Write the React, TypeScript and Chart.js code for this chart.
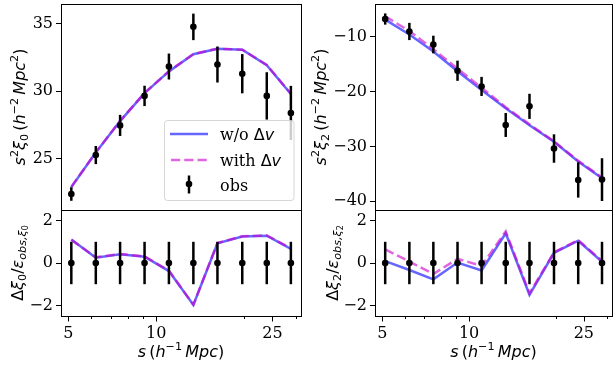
import React, { useEffect, useRef } from 'react';
import { Chart, registerables } from 'chart.js';

Chart.register(...registerables);

// ---------- data ----------
const sValues = [5.12, 6.21, 7.52, 9.12, 11.05, 13.4, 16.2, 19.7, 23.9, 28.9];
const xTickValues = [5, 6, 7, 8, 9, 10, 20, 25, 30];
const xTickLabels = [5, 10, 25];

const xi0Obs = [22.39, 25.27, 27.46, 29.64, 31.81, 34.74, 31.96, 31.28, 29.64, 28.38];
const xi0Err = [0.5, 0.67, 0.78, 0.75, 0.96, 0.98, 1.33, 1.45, 1.75, 2.0];
const xi0NoDv = [22.9, 25.45, 27.78, 29.85, 31.45, 32.72, 33.12, 33.05, 31.9, 29.78];
const xi0WithDv = [22.92, 25.46, 27.8, 29.86, 31.46, 32.73, 33.13, 33.06, 31.92, 29.8];

const xi2Obs = [-6.78, -9.05, -11.43, -16.21, -19.07, -26.1, -22.7, -30.39, -36.12, -36.06];
const xi2Err = [1.02, 1.57, 1.61, 1.84, 1.74, 2.18, 2.29, 2.59, 3.22, 3.9];
const xi2NoDv = [-6.9, -9.6, -12.7, -16.3, -19.7, -23.05, -26.14, -29.15, -32.74, -35.83];
const xi2WithDv = [-6.3, -8.97, -12.27, -15.84, -19.31, -22.85, -25.97, -29.1, -32.64, -35.67];

const res0NoDv = [1.11, 0.25, 0.41, 0.3, -0.38, -1.98, 0.93, 1.25, 1.29, 0.67];
const res0WithDv = [1.09, 0.27, 0.42, 0.31, -0.36, -1.97, 0.94, 1.26, 1.3, 0.69];
const res2NoDv = [0.09, -0.33, -0.77, 0.02, -0.35, 1.4, -1.5, 0.48, 1.05, 0.06];
const res2WithDv = [0.64, 0.07, -0.52, 0.2, -0.14, 1.49, -1.43, 0.5, 1.08, 0.1];
const resObs = [0, 0, 0, 0, 0, 0, 0, 0, 0, 0];
const resErr = [1, 1, 1, 1, 1, 1, 1, 1, 1, 1];

const yTicksXi0 = [25, 30, 35];
const yTicksXi2 = [-10, -20, -30, -40];
const yTicksRes = [-2, 0, 2];

// ---------- styling ----------
const W = 616;
const H = 372;
const X_MIN = 4.72;
const X_MAX = 31.3;
const BLUE = 'rgba(0,0,255,0.6)';
const PINK = 'rgba(204,0,204,0.6)';
const TICK_FONT = { family: 'DejaVu Serif', size: 16 };

type Seg = { t: string; it?: boolean; pos?: 'sup' | 'sub' | 'subsub'; f?: string };

function segFont(seg: Seg, size: number) {
  let s = size;
  if (seg.pos === 'sup' || seg.pos === 'sub') s = size * 0.7;
  if (seg.pos === 'subsub') s = size * 0.5;
  const fam = seg.f || 'DejaVu Sans';
  return `${seg.it ? 'italic ' : ''}${s}px "${fam}"`;
}
function segOff(seg: Seg, size: number) {
  if (seg.pos === 'sup') return -0.42 * size;
  if (seg.pos === 'sub') return 0.2 * size;
  if (seg.pos === 'subsub') return 0.32 * size;
  return 0;
}
function drawRich(ctx: CanvasRenderingContext2D, segs: Seg[], x: number, y: number, rotate: boolean, size: number, align: 'center' | 'left' = 'center') {
  ctx.save();
  let total = 0;
  const widths = segs.map((s) => {
    ctx.font = segFont(s, size);
    const w = ctx.measureText(s.t).width;
    total += w;
    return w;
  });
  ctx.translate(x, y);
  if (rotate) ctx.rotate(-Math.PI / 2);
  ctx.textAlign = 'left';
  ctx.textBaseline = 'alphabetic';
  ctx.fillStyle = '#000';
  let cx = align === 'center' ? -total / 2 : 0;
  segs.forEach((s, i) => {
    ctx.font = segFont(s, size);
    ctx.fillText(s.t, cx, segOff(s, size));
    cx += widths[i];
  });
  ctx.restore();
}

const titleXi = (n: string): Seg[] => [
  { t: 's', it: true }, { t: '2', pos: 'sup' }, { t: 'ξ', it: true }, { t: n, pos: 'sub' },
  { t: '\u2009(' }, { t: 'h', it: true }, { t: '−2', pos: 'sup' }, { t: '\u2009' },
  { t: 'Mpc', it: true }, { t: '2', pos: 'sup' }, { t: ')' },
];
const titleRes = (n: string): Seg[] => [
  { t: 'Δ' }, { t: 'ξ', it: true }, { t: n, pos: 'sub' }, { t: '/' }, { t: 'ε', it: true },
  { t: 'obs,ξ', it: true, pos: 'sub' }, { t: n, pos: 'subsub' },
];
const titleX: Seg[] = [
  { t: 's', it: true }, { t: '\u2009(' }, { t: 'h', it: true }, { t: '−1', pos: 'sup' },
  { t: '\u2009' }, { t: 'Mpc', it: true }, { t: ')' },
];

type Panel = {
  area: [number, number, number, number];
  yMin: number; yMax: number; yTicks: number[];
  obs: number[]; err: number[]; noDv: number[]; withDv: number[];
  xAxis: boolean; yTitle: Seg[]; yTitleX: number; legend: boolean;
};

const panels: Panel[] = [
  { area: [61, 0, 301, 210], yMin: 21.21, yMax: 36.43, yTicks: yTicksXi0, obs: xi0Obs, err: xi0Err, noDv: xi0NoDv, withDv: xi0WithDv, xAxis: false, yTitle: titleXi('0'), yTitleX: 25, legend: true },
  { area: [61, 210, 301, 316], yMin: -2.5, yMax: 2.5, yTicks: yTicksRes, obs: resObs, err: resErr, noDv: res0NoDv, withDv: res0WithDv, xAxis: true, yTitle: titleRes('0'), yTitleX: 23, legend: false },
  { area: [375, 0, 615, 210], yMin: -41.6, yMax: -4.04, yTicks: yTicksXi2, obs: xi2Obs, err: xi2Err, noDv: xi2NoDv, withDv: xi2WithDv, xAxis: false, yTitle: titleXi('2'), yTitleX: 326, legend: false },
  { area: [375, 210, 615, 316], yMin: -2.5, yMax: 2.5, yTicks: yTicksRes, obs: resObs, err: resErr, noDv: res2NoDv, withDv: res2WithDv, xAxis: true, yTitle: titleRes('2'), yTitleX: 338, legend: false },
];

function drawLegend(ctx: CanvasRenderingContext2D) {
  ctx.save();
  const x = 164.5, y = 120.5, w = 129.5, h = 80, r = 3;
  ctx.beginPath();
  ctx.moveTo(x + r, y);
  ctx.arcTo(x + w, y, x + w, y + h, r);
  ctx.arcTo(x + w, y + h, x, y + h, r);
  ctx.arcTo(x, y + h, x, y, r);
  ctx.arcTo(x, y, x + w, y, r);
  ctx.closePath();
  ctx.fillStyle = 'rgba(255,255,255,0.8)';
  ctx.fill();
  ctx.strokeStyle = 'rgba(204,204,204,0.8)';
  ctx.lineWidth = 1;
  ctx.stroke();

  ctx.lineWidth = 2.5;
  ctx.strokeStyle = BLUE;
  ctx.beginPath(); ctx.moveTo(170, 134); ctx.lineTo(208, 134); ctx.stroke();
  ctx.strokeStyle = PINK;
  ctx.setLineDash([9.25, 4]);
  ctx.beginPath(); ctx.moveTo(171, 160); ctx.lineTo(207, 160); ctx.stroke();
  ctx.setLineDash([]);
  ctx.strokeStyle = '#000';
  ctx.beginPath(); ctx.moveTo(189, 175.5); ctx.lineTo(189, 193.5); ctx.stroke();
  ctx.fillStyle = '#000';
  ctx.beginPath(); ctx.arc(189, 184, 3.3, 0, Math.PI * 2); ctx.fill();
  ctx.restore();

  drawRich(ctx, [{ t: 'w/o ', f: 'DejaVu Serif' }, { t: 'Δ' }, { t: 'v', it: true }], 220, 140, false, 16, 'left');
  drawRich(ctx, [{ t: 'with ', f: 'DejaVu Serif' }, { t: 'Δ' }, { t: 'v', it: true }], 220, 166, false, 16, 'left');
  drawRich(ctx, [{ t: 'obs', f: 'DejaVu Serif' }], 220, 191, false, 16, 'left');
}

function makeChart(canvas: HTMLCanvasElement, p: Panel) {
  const YW = 50;
  const XH = p.xAxis ? 30 : 0;
  const pts = (arr: number[]) => sValues.map((s, i) => ({ x: s, y: arr[i] }));
  const fmt = (v: number) => (v < 0 ? '−' + Math.abs(v) : String(v));

  const custom = {
    id: 'custom' + p.area.join('_'),
    beforeDatasetDraw(chart: any, args: any) {
      if (args.index !== 0) return;
      const ctx = chart.ctx as CanvasRenderingContext2D;
      const meta = chart.getDatasetMeta(0);
      const ys = chart.scales.y;
      const ca = chart.chartArea;
      ctx.save();
      ctx.beginPath();
      ctx.rect(ca.left, ca.top, ca.right - ca.left, ca.bottom - ca.top);
      ctx.clip();
      ctx.strokeStyle = '#000';
      ctx.lineWidth = 2.5;
      meta.data.forEach((el: any, i: number) => {
        const y1 = ys.getPixelForValue(p.obs[i] + p.err[i]);
        const y2 = ys.getPixelForValue(p.obs[i] - p.err[i]);
        ctx.beginPath();
        ctx.moveTo(el.x, y1);
        ctx.lineTo(el.x, y2);
        ctx.stroke();
      });
      ctx.restore();
    },
    afterDatasetsDraw(chart: any) {
      const ctx = chart.ctx as CanvasRenderingContext2D;
      if (p.legend) drawLegend(ctx);
    },
    afterDraw(chart: any) {
      const ctx = chart.ctx as CanvasRenderingContext2D;
      const ca = chart.chartArea;
      ctx.save();
      ctx.strokeStyle = '#000';
      ctx.lineWidth = 1;
      ctx.strokeRect(Math.round(ca.left) + 0.5, Math.round(ca.top) + 0.5, Math.round(ca.right - ca.left), Math.round(ca.bottom - ca.top));
      if (p.xAxis) {
        const xs = chart.scales.x;
        const b = Math.round(ca.bottom) + 0.5;
        xTickValues.forEach((v) => {
          const x = Math.round(xs.getPixelForValue(v)) + 0.5;
          const len = xTickLabels.includes(v) ? 5 : 2.5;
          ctx.beginPath();
          ctx.moveTo(x, b);
          ctx.lineTo(x, b + len);
          ctx.stroke();
        });
      }
      ctx.restore();
      drawRich(ctx, p.yTitle, p.yTitleX, (ca.top + ca.bottom) / 2, true, 16);
      if (p.xAxis) drawRich(ctx, titleX, (ca.left + ca.right) / 2, 357, false, 16);
    },
  };

  return new Chart(canvas, {
    type: 'line',
    data: {
      datasets: [
        { label: 'obs', data: pts(p.obs), showLine: false, pointRadius: 3.3, pointBackgroundColor: '#000', pointBorderWidth: 0, borderColor: '#000', order: 0 } as any,
        { label: 'with Δv', data: pts(p.withDv), borderColor: PINK, borderWidth: 2.5, borderDash: [9.25, 4], pointRadius: 0, tension: 0, order: 1 } as any,
        { label: 'w/o Δv', data: pts(p.noDv), borderColor: BLUE, borderWidth: 2.5, pointRadius: 0, tension: 0, order: 2 } as any,
      ],
    },
    options: {
      responsive: false,
      animation: false,
      devicePixelRatio: 1,
      events: [],
      layout: {
        padding: {
          left: p.area[0] - YW,
          top: p.area[1],
          right: W - p.area[2],
          bottom: H - p.area[3] - XH,
        },
      },
      plugins: { legend: { display: false }, tooltip: { enabled: false }, title: { display: false } },
      scales: {
        x: {
          type: 'logarithmic',
          min: X_MIN,
          max: X_MAX,
          display: p.xAxis,
          afterBuildTicks: (s: any) => { s.ticks = xTickValues.map((v) => ({ value: v })); },
          ticks: {
            autoSkip: false,
            maxRotation: 0,
            minRotation: 0,
            padding: 3,
            color: '#000',
            font: TICK_FONT,
            callback: (v: any) => (xTickLabels.includes(Number(v)) ? String(v) : ''),
          },
          grid: { display: false, drawTicks: true, tickLength: 5 },
          border: { display: false },
          afterFit: (s: any) => { s.height = XH; s.paddingLeft = 0; s.paddingRight = 0; },
        },
        y: {
          type: 'linear',
          min: p.yMin,
          max: p.yMax,
          afterBuildTicks: (s: any) => { s.ticks = p.yTicks.map((v) => ({ value: v })); },
          ticks: { padding: 3, color: '#000', font: TICK_FONT, callback: (v: any) => fmt(Number(v)) },
          grid: { drawOnChartArea: false, drawTicks: true, tickLength: 5, tickColor: '#000', tickWidth: 1, color: '#000' },
          border: { display: false },
          afterFit: (s: any) => { s.width = YW; s.paddingTop = 0; s.paddingBottom = 0; },
        },
      },
    } as any,
    plugins: [custom],
  });
}

export default function App() {
  const refs = [useRef<HTMLCanvasElement>(null), useRef<HTMLCanvasElement>(null), useRef<HTMLCanvasElement>(null), useRef<HTMLCanvasElement>(null)];
  useEffect(() => {
    const charts = panels.map((p, i) => makeChart(refs[i].current as HTMLCanvasElement, p));
    return () => charts.forEach((c) => c.destroy());
  }, []);
  return (
    <div style={{ position: 'fixed', left: 0, top: 0, width: W, height: H, background: '#fff' }}>
      {panels.map((_, i) => (
        <canvas key={i} ref={refs[i]} width={W} height={H} style={{ position: 'absolute', left: 0, top: 0, width: W, height: H }} />
      ))}
    </div>
  );
}
